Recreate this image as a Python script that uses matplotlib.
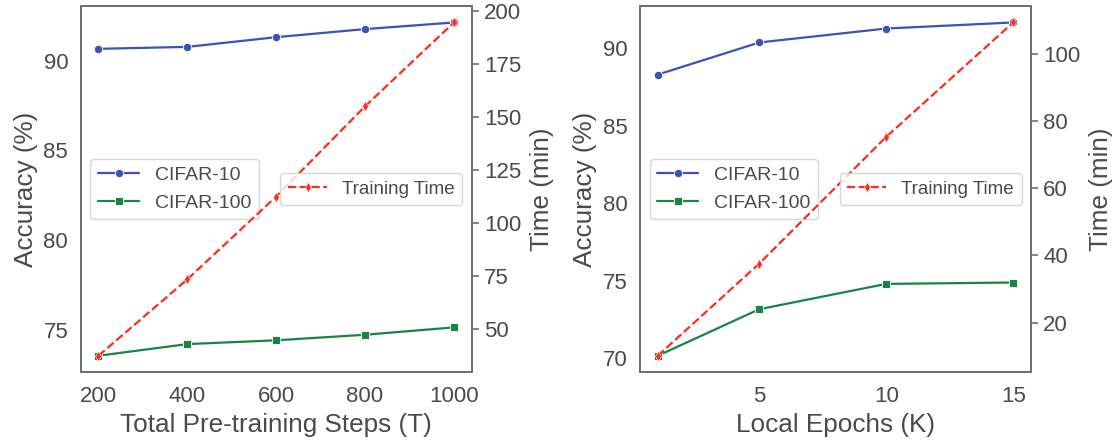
import matplotlib
matplotlib.use("Agg")
import matplotlib.pyplot as plt
import seaborn as sns

# -----------------------------
# Data
# -----------------------------
steps = [200, 400, 600, 800, 1000]
steps_cifar10 = [90.65, 90.76, 91.30, 91.75, 92.12]
steps_cifar100 = [73.55, 74.20, 74.41, 74.72, 75.13]
steps_time = [37.5, 73.5, 112.5, 155.0, 194.5]

epochs = [1, 5, 10, 15]
epochs_cifar10 = [88.29, 90.36, 91.26, 91.65]
epochs_cifar100 = [70.17, 73.17, 74.80, 74.89]
epochs_time = [10.1, 37.6, 75.4, 109.5]

# -----------------------------
# Style
# -----------------------------
sns.set_style("ticks")
plt.rcParams['font.family'] = ['Liberation Sans', 'DejaVu Sans']
text_col = '#4a4a4a'
spine_col = '#707070'
plt.rcParams['text.color'] = text_col
plt.rcParams['axes.labelcolor'] = text_col
plt.rcParams['xtick.color'] = spine_col
plt.rcParams['ytick.color'] = spine_col
plt.rcParams['xtick.labelcolor'] = text_col
plt.rcParams['ytick.labelcolor'] = text_col
plt.rcParams['axes.edgecolor'] = spine_col
plt.rcParams['axes.linewidth'] = 1.3

blue = '#3a53b5'
green = '#1a8445'
red = '#ff2b1c'


def draw_panel(ax, x, c10, c100, t, xlabel, yticks, tticks):
    ax.plot(x, c10, color=blue, marker='o', markersize=6, markeredgecolor='white',
            markeredgewidth=0.6, lw=1.6, label='CIFAR-10')
    ax.plot(x, c100, color=green, marker='s', markersize=6, markeredgecolor='white',
            markeredgewidth=0.6, lw=1.6, label='CIFAR-100')
    ax.set_xlabel(xlabel, fontsize=18.8, labelpad=4)
    ax.set_ylabel('Accuracy (%)', fontsize=18.8, labelpad=4)
    ax.set_yticks(yticks)
    ax.tick_params(axis='y', labelsize=16, length=0, pad=9)
    ax.tick_params(axis='x', labelsize=16, length=0, pad=10)
    ax.legend(loc='center left', fontsize=14, frameon=True, handlelength=2.1)

    ax2 = ax.twinx()
    ax2.plot(x, t, color=red, linestyle='--', marker='d', markersize=5.5,
             markeredgecolor='white', markeredgewidth=0.4, lw=1.6, label='Training Time')
    ax2.set_ylabel('Time (min)', fontsize=18.8, labelpad=6)
    ax2.set_yticks(tticks)
    ax2.tick_params(labelsize=16, length=5.3, width=1.2, pad=3.6)
    ax2.legend(loc='center right', fontsize=13.5, frameon=True, handlelength=2.1)
    return ax2


fig = plt.figure(figsize=(11.13, 4.46), dpi=100)
ax_l = fig.add_axes([0.0725, 0.165, 0.3513, 0.822])
ax_r = fig.add_axes([0.575, 0.165, 0.3513, 0.822])

draw_panel(ax_l, steps, steps_cifar10, steps_cifar100, steps_time,
           'Total Pre-training Steps (T)', [75, 80, 85, 90], [50, 75, 100, 125, 150, 175, 200])
ax_l.set_xticks(steps)

draw_panel(ax_r, epochs, epochs_cifar10, epochs_cifar100, epochs_time,
           'Local Epochs (K)', [70, 75, 80, 85, 90], [20, 40, 60, 80, 100])
ax_r.set_xticks([5, 10, 15])

fig.savefig('out.png', dpi=100)
